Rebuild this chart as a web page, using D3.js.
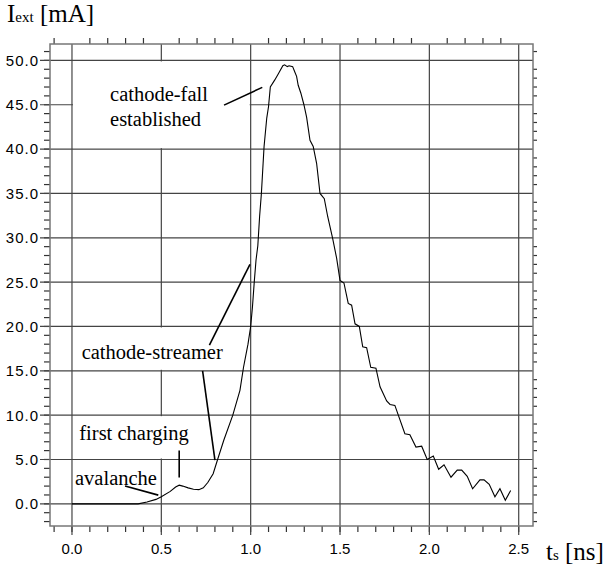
<!DOCTYPE html>
<html>
  <head>
    <meta charset="utf-8" />
    <title>External current</title>
    <script src="https://d3js.org/d3.v7.min.js"></script>
    <style>
      body { margin: 0; background: #fff; }
      svg { display: block; background: #fff; }
      .tick-label { font-family: "Liberation Sans", Arial, sans-serif; font-size: 15px; fill: #000; }
    </style>
  </head>
  <body>
    <svg width="607" height="566"></svg>

    <script>
      // time [ns] and current [mA]
      const timeNs = [
        0, 0.37, 0.42, 0.47, 0.5, 0.55, 0.58, 0.6, 0.62, 0.65, 0.68, 0.71, 0.735, 0.76, 0.79,
        0.815, 0.85, 0.9, 0.94, 0.96, 0.985, 1.0, 1.01, 1.02, 1.03, 1.04, 1.05, 1.06, 1.075,
        1.09, 1.1, 1.11, 1.135, 1.155, 1.18, 1.19, 1.205, 1.215, 1.235, 1.247, 1.257, 1.266,
        1.281, 1.298, 1.313, 1.332, 1.35, 1.369, 1.388, 1.412, 1.431, 1.459, 1.481, 1.5,
        1.522, 1.546, 1.565, 1.584, 1.608, 1.627, 1.649, 1.672, 1.701, 1.724, 1.761, 1.78,
        1.807, 1.863, 1.891, 1.925, 1.957, 1.988, 2.022, 2.052, 2.082, 2.121, 2.156, 2.181,
        2.212, 2.242, 2.283, 2.306, 2.335, 2.367, 2.395, 2.425, 2.455
      ];
      const currentMa = [
        0, 0, 0.2, 0.5, 0.8, 1.4, 1.9, 2.1, 2.0, 1.8, 1.65, 1.6, 1.8, 2.4, 3.4,
        5.0, 7.2, 10.0, 12.8, 15.4, 18.0, 20.0, 22.2, 25.0, 27.5, 29.1, 32.4, 35.0, 40.3,
        43.5, 44.8, 47.0, 47.8, 48.5, 49.4, 49.5, 49.3, 49.4, 49.3, 48.7, 48.2, 47.2,
        46.3, 45.0, 43.6, 41.0, 40.3, 38.4, 35.0, 34.4, 32.4, 29.9, 27.7, 25.2,
        24.9, 22.6, 22.4, 20.3, 20.0, 17.7, 17.6, 15.4, 15.3, 13.2, 11.6, 11.2,
        11.1, 7.9, 7.8, 6.4, 6.5, 5.0, 5.4, 3.9, 4.4, 3.0, 3.8, 3.8,
        3.1, 1.7, 2.7, 2.7, 2.2, 0.8, 1.7, 0.4, 1.5
      ];

      const xMajor = [0, 0.5, 1.0, 1.5, 2.0, 2.5];
      const yMajor = [0, 5, 10, 15, 20, 25, 30, 35, 40, 45, 50];
      const xMinor = d3.range(-1, 26).map(i => i / 10);
      const yMinor = d3.range(-2, 52);

      // label boxes: [t0, t1, I0, I1]
      const boxes = [[0, 1, 40, 50], [0, 1, 15, 20], [0, 1, 5, 10]];
      const notes = [
        { text: "cathode-fall", t: 0.213, i: 45.45 },
        { text: "established", t: 0.213, i: 42.6 },
        { text: "cathode-streamer", t: 0.054, i: 16.3 },
        { text: "first charging", t: 0.041, i: 7.18 },
        { text: "avalanche", t: 0.017, i: 2.07 }
      ];
      const leaders = [
        [0.851, 44.96, 1.065, 46.96],
        [0.769, 17.9, 0.996, 27.0],
        [0.731, 15.0, 0.80, 4.93],
        [0.6, 6.0, 0.6, 2.98],
        [0.297, 2.0, 0.483, 0.98]
      ];

      const serif = '"Liberation Serif", "Times New Roman", serif';

      const svg = d3.select("svg");
      const x = d3.scaleLinear().domain([-0.123, 2.58]).range([50, 533]);
      const y = d3.scaleLinear().domain([-2.5, 51.85]).range([526, 44]);
      const [x0, x1] = x.range();
      const [y0, y1] = y.range();

      // ticks
      const ticks = svg.append("g").attr("stroke", "#333").attr("stroke-width", 1.2);
      ticks.selectAll(".tb").data(xMinor).join("line")
        .attr("x1", d => x(d)).attr("x2", d => x(d))
        .attr("y1", y0).attr("y2", y0 + 6);
      ticks.selectAll(".tt").data(xMinor.filter(d => Math.round(d * 10) % 5 !== 0)).join("line")
        .attr("class", "tt")
        .attr("x1", d => x(d)).attr("x2", d => x(d))
        .attr("y1", y1).attr("y2", y1 - 6);
      ticks.selectAll(".tl").data(yMinor).join("line")
        .attr("class", "tl")
        .attr("x1", x0).attr("x2", x0 - 6)
        .attr("y1", d => y(d)).attr("y2", d => y(d));
      ticks.selectAll(".tr").data(yMinor.filter(d => d % 5 !== 0)).join("line")
        .attr("class", "tr")
        .attr("x1", x1).attr("x2", x1 + 4)
        .attr("y1", d => y(d)).attr("y2", d => y(d));

      // grid
      const grid = svg.append("g").attr("stroke", "#444").attr("stroke-width", 1.2);
      grid.selectAll(".gv").data(xMajor).join("line")
        .attr("class", "gv")
        .attr("x1", d => x(d)).attr("x2", d => x(d))
        .attr("y1", y1).attr("y2", y0 + 9);
      grid.selectAll(".gh").data(yMajor).join("line")
        .attr("class", "gh")
        .attr("x1", x0 - 10).attr("x2", x1)
        .attr("y1", d => y(d)).attr("y2", d => y(d));

      // white boxes behind labels
      svg.append("g").selectAll("rect").data(boxes).join("rect")
        .attr("x", d => x(d[0]) + 1)
        .attr("y", d => y(d[3]) + 1)
        .attr("width", d => x(d[1]) - x(d[0]) - 2)
        .attr("height", d => y(d[2]) - y(d[3]) - 2)
        .attr("fill", "#fff");

      // frame
      svg.append("rect")
        .attr("x", x0).attr("y", y1)
        .attr("width", x1 - x0).attr("height", y0 - y1)
        .attr("fill", "none").attr("stroke", "#777").attr("stroke-width", 1.5);

      // trace
      const line = d3.line().x(d => x(d[0])).y(d => y(d[1]));
      svg.append("path")
        .datum(timeNs.map((t, k) => [t, currentMa[k]]))
        .attr("d", line)
        .attr("fill", "none")
        .attr("stroke", "#000")
        .attr("stroke-width", 1.1);

      // leaders
      svg.append("g").selectAll("line").data(leaders).join("line")
        .attr("x1", d => x(d[0])).attr("y1", d => y(d[1]))
        .attr("x2", d => x(d[2])).attr("y2", d => y(d[3]))
        .attr("stroke", "#000").attr("stroke-width", 1.6);

      svg.append("g").selectAll("text").data(notes).join("text")
        .attr("x", d => x(d.t)).attr("y", d => y(d.i))
        .style("font-family", serif)
        .style("font-size", "20.5px")
        .attr("fill", "#000")
        .text(d => d.text);

      // tick labels
      svg.append("g").selectAll("text").data(xMajor).join("text")
        .attr("class", "tick-label")
        .attr("x", d => x(d)).attr("y", 554)
        .attr("text-anchor", "middle")
        .text(d => d.toFixed(1));
      svg.append("g").selectAll("text").data(yMajor).join("text")
        .attr("class", "tick-label")
        .attr("x", 39).attr("y", d => y(d))
        .attr("dy", "0.36em")
        .attr("text-anchor", "end")
        .attr("letter-spacing", 1)
        .text(d => d.toFixed(1));

      // axis titles
      const yt = svg.append("text").attr("x", 7).attr("y", 22)
        .style("font-family", serif).style("font-size", "25px");
      yt.append("tspan").text("I");
      yt.append("tspan").style("font-size", "15px").text("ext");
      yt.append("tspan").text(" [mA]");

      const xt = svg.append("text").attr("x", 546).attr("y", 560)
        .style("font-family", serif).style("font-size", "25px");
      xt.append("tspan").text("t");
      xt.append("tspan").style("font-size", "15px").text("s");
      xt.append("tspan").text(" [ns]");
    </script>
  </body>
</html>
